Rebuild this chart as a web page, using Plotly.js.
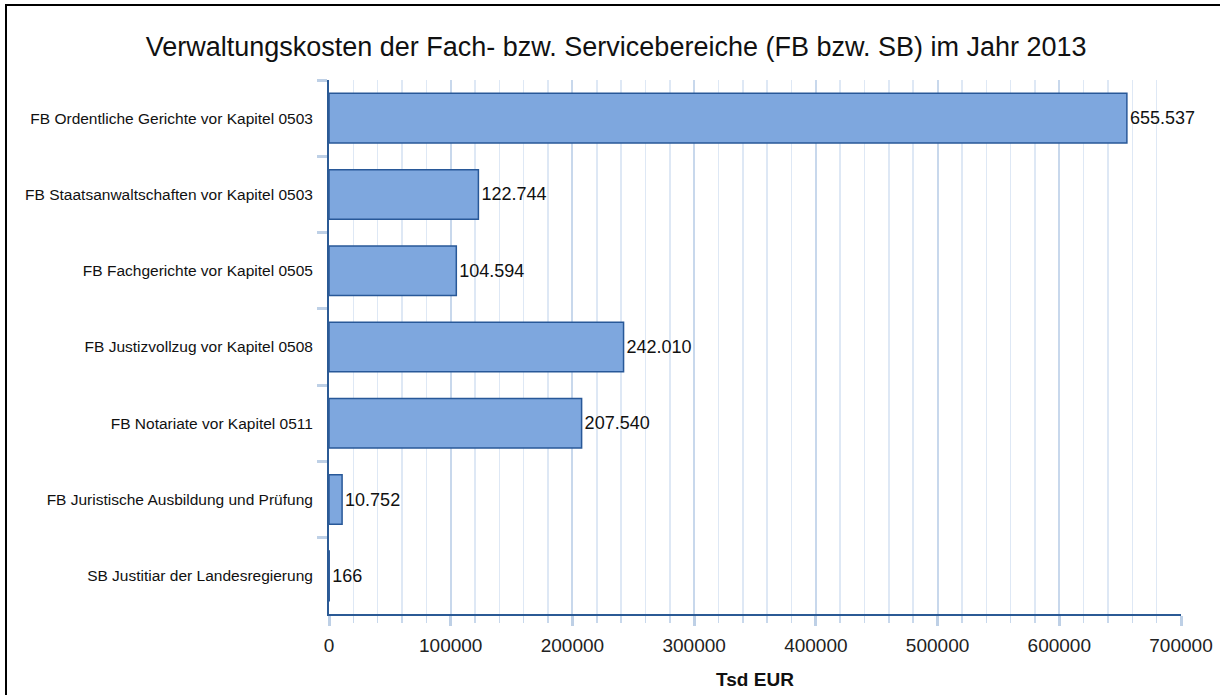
<!DOCTYPE html>
<html>
<head>
<meta charset="utf-8">
<script src="https://cdn.plot.ly/plotly-3.0.1.min.js"></script>
<style>
  html, body { margin: 0; padding: 0; background: #fff; }
  #chart { width: 1220px; height: 695px; }
</style>
</head>
<body>
<div id="chart"></div>
<script>
const categories = [
  "FB Ordentliche Gerichte vor Kapitel 0503",
  "FB Staatsanwaltschaften vor Kapitel 0503",
  "FB Fachgerichte vor Kapitel 0505",
  "FB Justizvollzug vor Kapitel 0508",
  "FB Notariate vor Kapitel 0511",
  "FB Juristische Ausbildung und Prüfung",
  "SB Justitiar der Landesregierung"
];
const values = [655537, 122744, 104594, 242010, 207540, 10752, 166];
const chartTitle = "Verwaltungskosten der Fach- bzw. Servicebereiche (FB bzw. SB) im Jahr 2013";
const xTitle = "Tsd EUR";

function fmtDE(v) {
  return String(v).replace(/\B(?=(\d{3})+(?!\d))/g, ".");
}
const labels = values.map(fmtDE);

const font = "Liberation Sans, Arial, sans-serif";

const trace = {
  type: "bar",
  orientation: "h",
  x: values,
  y: categories,
  width: 0.65,
  text: labels,
  textposition: "outside",
  cliponaxis: false,
  textfont: { family: font, size: 18, color: "#111" },
  marker: { color: "rgb(126,167,222)", line: { color: "rgb(40,88,152)", width: 1.5 } },
  hoverinfo: "x+y"
};

const layout = {
  width: 1220,
  height: 695,
  margin: { l: 329, r: 39, t: 80, b: 81 },
  paper_bgcolor: "#fff",
  plot_bgcolor: "#fff",
  showlegend: false,
  title: {
    text: chartTitle,
    font: { family: font, size: 27, color: "#111" },
    x: 0.505, xref: "container", xanchor: "center",
    y: 1 - 47/695, yref: "container", yanchor: "middle"
  },
  xaxis: {
    range: [0, 700000],
    dtick: 100000,
    tick0: 0,
    tickformat: "d",
    showgrid: true,
    gridcolor: "rgb(200,216,236)",
    gridwidth: 2,
    zeroline: false,
    showline: true,
    linecolor: "rgb(43,90,149)",
    linewidth: 2,
    ticks: "outside",
    ticklen: 10,
    tickwidth: 3,
    tickcolor: "rgb(190,208,230)",
    tickfont: { family: font, size: 19, color: "#222" },
    ticklabelstandoff: 3,
    minor: {
      dtick: 20000,
      showgrid: true,
      gridcolor: "rgb(222,232,245)",
      gridwidth: 1.5,
      ticks: "outside",
      ticklen: 7,
      tickwidth: 1.5,
      tickcolor: "rgb(200,216,236)"
    },
    title: { text: xTitle, font: { family: font, size: 19, color: "#111", weight: "bold" }, standoff: 18 },
    fixedrange: true
  },
  yaxis: {
    type: "category",
    autorange: "reversed",
    tickson: "boundaries",
    ticks: "outside",
    ticklen: 10,
    tickwidth: 3,
    tickcolor: "rgb(190,208,230)",
    showgrid: false,
    zeroline: false,
    showline: true,
    linecolor: "rgb(43,90,149)",
    linewidth: 2,
    tickfont: { family: font, size: 15.5, color: "#111" },
    ticklabelstandoff: 11,
    fixedrange: true
  },
  shapes: [{
    type: "rect", xref: "paper", yref: "paper",
    x0: (6 - 329) / 852, x1: (1240 - 329) / 852,
    y0: (614 - 720) / 534, y1: (614 - 5) / 534,
    line: { color: "#000", width: 2 }, fillcolor: "rgba(0,0,0,0)", layer: "above"
  }]
};

Plotly.newPlot("chart", [trace], layout, { displayModeBar: false, staticPlot: true });
</script>
</body>
</html>
